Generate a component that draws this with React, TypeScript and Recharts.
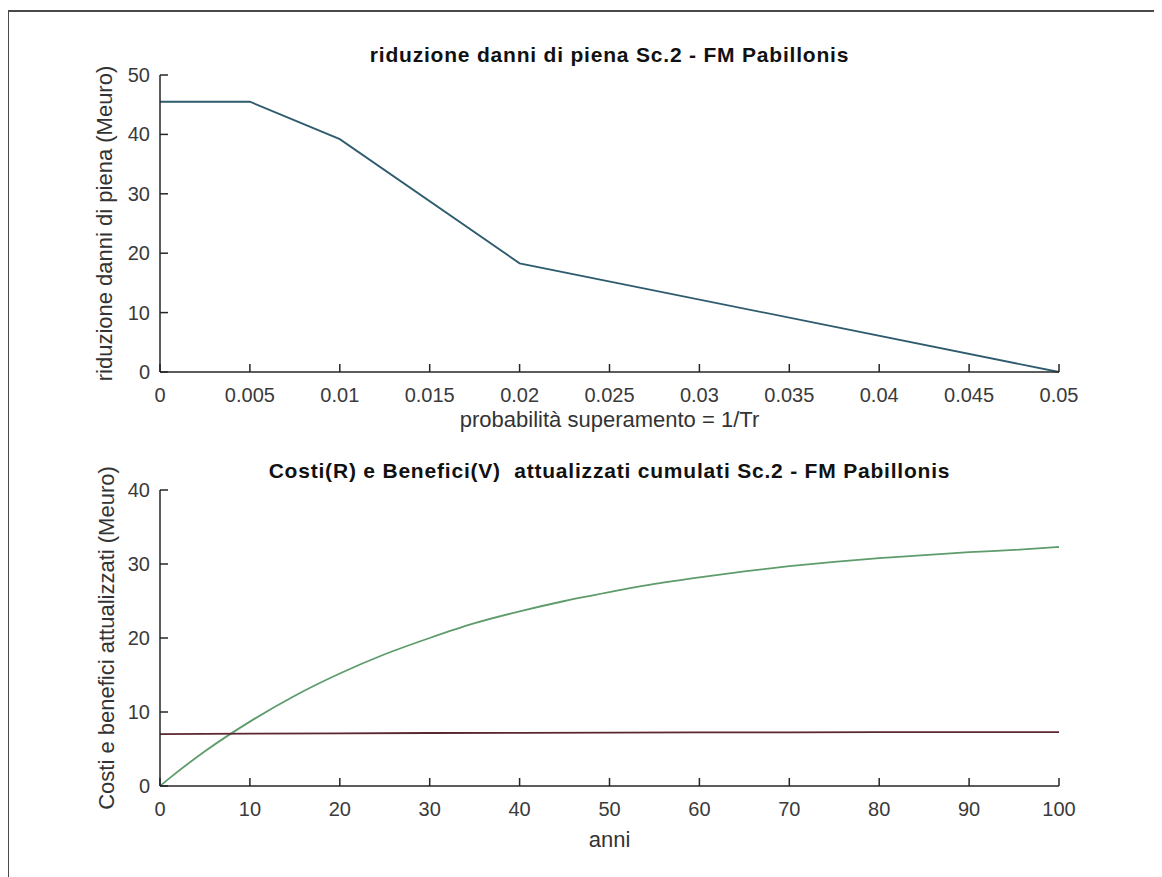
import { Line, LineChart, XAxis, YAxis } from 'recharts';

const probTicks = [0, 0.005, 0.01, 0.015, 0.02, 0.025, 0.03, 0.035, 0.04, 0.045, 0.05];
const reductionTicks = [0, 10, 20, 30, 40, 50];
const probability = [0, 0.005, 0.01, 0.02, 0.05];
const reduction = [45.5, 45.5, 39.2, 18.3, 0];

const yearTicks = [0, 10, 20, 30, 40, 50, 60, 70, 80, 90, 100];
const valueTicks = [0, 10, 20, 30, 40];
const benefitYears = [0, 1, 5, 10, 15, 20, 25, 30, 35, 40, 45, 50, 55, 60, 65, 70, 75, 80, 85, 90, 95, 100];
const benefits = [0, 1.0, 4.7, 8.7, 12.2, 15.2, 17.8, 20.0, 22.0, 23.6, 25.0, 26.2, 27.3, 28.2, 29.0, 29.7, 30.3, 30.8, 31.2, 31.6, 31.9, 32.3];
const costYears = [0, 10, 20, 30, 40, 50, 60, 70, 80, 90, 100];
const costs = [7.0, 7.07, 7.12, 7.16, 7.19, 7.22, 7.24, 7.26, 7.27, 7.28, 7.29];

const reductionRows = probability.map((p, i) => ({ p, v: reduction[i] }));
const benefitRows = benefitYears.map((year, i) => ({ year, v: benefits[i] }));
const costRows = costYears.map((year, i) => ({ year, v: costs[i] }));

const FONT = '"Liberation Sans", Arial, sans-serif';
const AXIS = '#262626';
const TICK_TEXT = '#3a3a3a';

function XTick(props: any) {
  const { x, y, payload } = props;
  return (
    <g>
      <line x1={x} y1={y} x2={x} y2={y - 8} stroke={AXIS} strokeWidth={1.5} />
      <text x={x} y={y + 30} textAnchor="middle" fontSize={20} fontFamily={FONT} fill={TICK_TEXT}>
        {String(payload.value)}
      </text>
    </g>
  );
}

function YTick(props: any) {
  const { x, y, payload } = props;
  return (
    <g>
      <line x1={x} y1={y} x2={x + 8} y2={y} stroke={AXIS} strokeWidth={1.5} />
      <text x={x - 10} y={y + 7} textAnchor="end" fontSize={20} fontFamily={FONT} fill={TICK_TEXT}>
        {String(payload.value)}
      </text>
    </g>
  );
}

export default function App() {
  return (
    <div style={{ position: 'relative', width: 1154, height: 869, background: '#fff', fontFamily: FONT }}>
      <div
        style={{
          position: 'absolute',
          left: -1,
          top: 2,
          right: 0,
          bottom: 0,
          borderTop: '2px solid #4a4a4a',
          borderLeft: '2px solid #4a4a4a',
        }}
      />
      <svg width={1154} height={869} style={{ position: 'absolute', left: 0, top: 0 }}>
        <text x={601.5} y={54} textAnchor="middle" fontSize={21} fontWeight="bold" letterSpacing={0.8} fill="#111">
          riduzione danni di piena Sc.2 - FM Pabillonis
        </text>
        <text x={601.5} y={419} textAnchor="middle" fontSize={22} fill="#333">
          probabilità superamento = 1/Tr
        </text>
        <text
          x={104}
          y={215.5}
          textAnchor="middle"
          fontSize={22}
          fill="#333"
          transform="rotate(-90 104 215.5)"
        >
          riduzione danni di piena (Meuro)
        </text>

        <text
          x={601.5}
          y={470}
          textAnchor="middle"
          fontSize={21}
          fontWeight="bold"
          letterSpacing={0.8}
          fill="#111"
          style={{ whiteSpace: 'pre' }}
        >
          {'Costi(R) e Benefici(V)  attualizzati cumulati Sc.2 - FM Pabillonis'}
        </text>
        <text x={601.5} y={839} textAnchor="middle" fontSize={22} fill="#333">
          anni
        </text>
        <text
          x={106}
          y={630}
          textAnchor="middle"
          fontSize={22}
          fill="#333"
          transform="rotate(-90 106 630)"
        >
          Costi e benefici attualizzati (Meuro)
        </text>
      </svg>

      <div style={{ position: 'absolute', left: 0, top: 0 }}>
        <LineChart width={1154} height={420} data={reductionRows} margin={{ top: 67, right: 103, left: 92, bottom: 16 }}>
          <XAxis
            dataKey="p"
            type="number"
            domain={[0, 0.05]}
            ticks={probTicks}
            height={40}
            tickSize={0}
            tickMargin={0}
            tickLine={false}
            tick={<XTick />}
            axisLine={{ stroke: AXIS, strokeWidth: 1.5 }}
            interval={0}
          />
          <YAxis
            type="number"
            domain={[0, 50]}
            ticks={reductionTicks}
            width={60}
            tickSize={0}
            tickMargin={0}
            tickLine={false}
            tick={<YTick />}
            axisLine={{ stroke: AXIS, strokeWidth: 1.5 }}
            interval={0}
          />
          <Line
            dataKey="v"
            type="linear"
            stroke="#2e5c6e"
            strokeWidth={1.8}
            dot={false}
            isAnimationActive={false}
          />
        </LineChart>
      </div>

      <div style={{ position: 'absolute', left: 0, top: 420 }}>
        <LineChart width={1154} height={449} margin={{ top: 62, right: 103, left: 92, bottom: 51 }}>
          <XAxis
            dataKey="year"
            type="number"
            domain={[0, 100]}
            ticks={yearTicks}
            height={40}
            tickSize={0}
            tickMargin={0}
            tickLine={false}
            tick={<XTick />}
            axisLine={{ stroke: AXIS, strokeWidth: 1.5 }}
            interval={0}
            allowDuplicatedCategory={false}
          />
          <YAxis
            type="number"
            domain={[0, 40]}
            ticks={valueTicks}
            width={60}
            tickSize={0}
            tickMargin={0}
            tickLine={false}
            tick={<YTick />}
            axisLine={{ stroke: AXIS, strokeWidth: 1.5 }}
            interval={0}
          />
          <Line
            data={benefitRows}
            dataKey="v"
            type="monotone"
            stroke="#5e9c6c"
            strokeWidth={1.8}
            dot={false}
            isAnimationActive={false}
          />
          <Line
            data={costRows}
            dataKey="v"
            type="linear"
            stroke="#5a2630"
            strokeWidth={1.8}
            dot={false}
            isAnimationActive={false}
          />
        </LineChart>
      </div>
    </div>
  );
}
